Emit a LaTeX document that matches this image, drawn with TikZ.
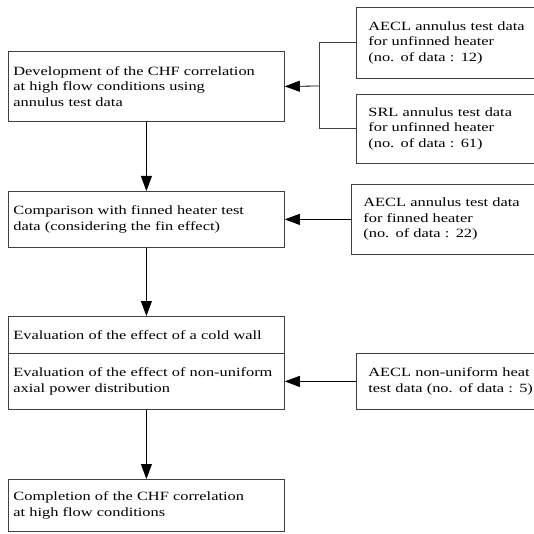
\documentclass[tikz,border=0pt]{standalone}
\usepackage{fontspec}
\setmainfont{Liberation Serif}[FakeStretch=1.3]
\usetikzlibrary{arrows.meta}

\begin{document}
\begin{tikzpicture}
    [
        x=1pt, y=-1pt,
        >={Triangle[length=15pt, width=11pt]},
        stage/.style={draw=black!75, line width=0.8pt, anchor=north west,
            align=left, text width=266pt, inner xsep=5pt,
            font=\fontsize{12.6}{15.5}\selectfont},
        source/.style={stage, text width=175pt, inner xsep=12pt},
        flow/.style={->, draw=black, line width=0.8pt},
        link/.style={draw=black!75, line width=0.8pt},
    ]
    \useasboundingbox (0,0) rectangle (534,534);

    % main chain
    \node (dev)  at (8,51)  [stage, minimum height=70pt]
        {Development of the CHF correlation\\at high flow conditions using\\annulus test data};
    \node (cmp)  at (8,191) [stage, minimum height=56pt]
        {Comparison with finned heater test\\data (considering the fin effect)};
    \node (cold) at (8,316) [stage, minimum height=37pt]
        {Evaluation of the effect of a cold wall};
    \node (nonu) at (8,353) [stage, minimum height=56pt]
        {Evaluation of the effect of non-uniform\\axial power distribution};
    \node (done) at (8,479) [stage, minimum height=52pt]
        {Completion of the CHF correlation\\at high flow conditions};

    % test data
    \node (aecl1) at (356,7)   [source, minimum height=71pt]
        {AECL annulus test data\\for unfinned heater\\(no. of data : 12)};
    \node (srl)   at (356,94)  [source, minimum height=69pt]
        {SRL annulus test data\\for unfinned heater\\(no. of data : 61)};
    \node (aecl2) at (351,184) [source, minimum height=70pt]
        {AECL annulus test data\\for finned heater\\(no. of data : 22)};
    \node (aecl3) at (356,353) [source, minimum height=56pt]
        {AECL non-uniform heat\\test data (no. of data : 5)};

    \coordinate (jn) at (319,86);

    \draw [link] (aecl1.west) -| (jn);
    \draw [link] (srl.west) -| (jn);
    \draw [flow] (jn) -- (dev.east);
    \draw [flow] (aecl2.west) -- (cmp.east);
    \draw [flow] (aecl3.west) -- (nonu.east);
    \draw [flow] (dev) -- (cmp);
    \draw [flow] (cmp) -- (cold);
    \draw [flow] (nonu) -- (done);

\end{tikzpicture}
\end{document}
